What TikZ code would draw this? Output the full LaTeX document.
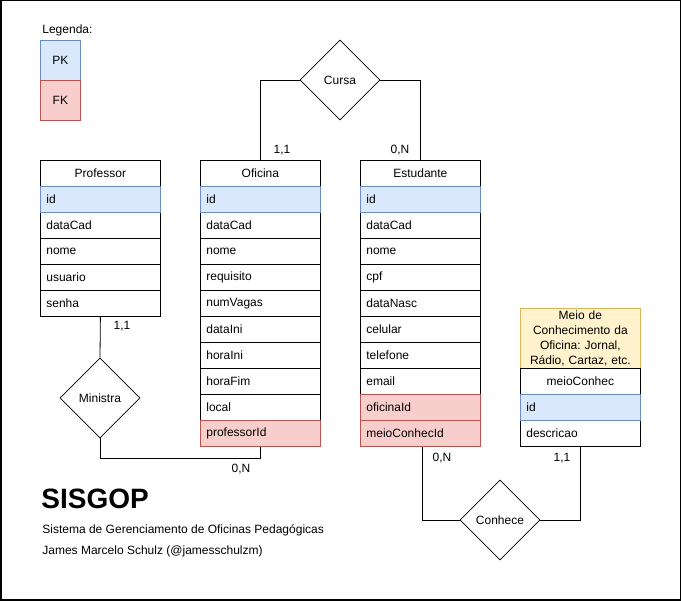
\documentclass[tikz,border=0pt]{standalone}
\usepackage{fontspec}
\setmainfont{Liberation Sans}
\usetikzlibrary{shapes.geometric}
\definecolor{pkfill}{HTML}{DAE8FC}
\definecolor{pkline}{HTML}{6C8EBF}
\definecolor{fkfill}{HTML}{F8CECC}
\definecolor{fkline}{HTML}{B85450}
\definecolor{notefill}{HTML}{FFF2CC}
\definecolor{noteline}{HTML}{D6B656}
\newcommand{\w}{120pt}
\newcommand{\h}{26pt}
\frenchspacing

\begin{document}
\begin{tikzpicture}[x=1pt, y=-1pt, line width=0.8pt,
    every node/.style={font=\fontsize{12}{14}\selectfont},
    tab/.style={draw, rectangle, anchor=north west, minimum width=\w, minimum height=\h, inner xsep=6pt, inner ysep=0pt, text width=108pt, align=left},
    head/.style={tab, align=center},
    pk/.style={tab, fill=pkfill, draw=pkline},
    fk/.style={tab, fill=fkfill, draw=fkline},
    rel/.style={draw, diamond, minimum width=80pt, minimum height=80pt, inner sep=0pt, fill=white},
    card/.style={inner sep=0pt}]
    \useasboundingbox (0,0) rectangle (681,601);
    \draw[line width=1.5pt] (0.75,0.75) rectangle (680.25,600.25);

    % Legend
    \node[anchor=west, inner sep=0pt] (legend) at (42,30) {Legenda:};
    \node[head, fill=pkfill, draw=pkline, minimum width=40pt, text width=28pt, minimum height=40pt] (legend-pk) at (40,40) {PK};
    \node[head, fill=fkfill, draw=fkline, minimum width=40pt, text width=28pt, minimum height=40pt] (legend-fk) at (40,80) {FK};

    % Professor
    \node[head] (prof-0) at (40,160) {Professor};
    \node[tab] (prof-2) at (40,212) {dataCad};
    \node[tab] (prof-3) at (40,238) {nome};
    \node[tab] (prof-4) at (40,264) {usuario};
    \node[tab] (prof-5) at (40,290) {senha};
    \node[pk] (prof-1) at (40,186) {id};

    % Oficina
    \node[head] (ofi-0) at (200,160) {Oficina};
    \node[tab] (ofi-2) at (200,212) {dataCad};
    \node[tab] (ofi-3) at (200,238) {nome};
    \node[tab] (ofi-4) at (200,264) {requisito};
    \node[tab] (ofi-5) at (200,290) {numVagas};
    \node[tab] (ofi-6) at (200,316) {dataIni};
    \node[tab] (ofi-7) at (200,342) {horaIni};
    \node[tab] (ofi-8) at (200,368) {horaFim};
    \node[tab] (ofi-9) at (200,394) {local};
    \node[pk] (ofi-1) at (200,186) {id};
    \node[fk] (ofi-10) at (200,420) {professorId};

    % Estudante
    \node[head] (est-0) at (360,160) {Estudante};
    \node[tab] (est-2) at (360,212) {dataCad};
    \node[tab] (est-3) at (360,238) {nome};
    \node[tab] (est-4) at (360,264) {cpf};
    \node[tab] (est-5) at (360,290) {dataNasc};
    \node[tab] (est-6) at (360,316) {celular};
    \node[tab] (est-7) at (360,342) {telefone};
    \node[tab] (est-8) at (360,368) {email};
    \node[pk] (est-1) at (360,186) {id};
    \node[fk] (est-9) at (360,394) {oficinaId};
    \node[fk] (est-10) at (360,420) {meioConhecId};

    % meioConhec
    \node[head, fill=notefill, draw=noteline, minimum height=60pt, font=\fontsize{12}{15}\selectfont] (note) at (520,308) {Meio de\\Conhecimento da\\Oficina: Jornal,\\Rádio, Cartaz, etc.};
    \node[head] (meio-0) at (520,368) {meioConhec};
    \node[tab] (meio-2) at (520,420) {descricao};
    \node[pk] (meio-1) at (520,394) {id};

    % Relationships
    \node[rel] (cursa) at (340,80) {Cursa};
    \node[rel] (ministra) at (100,398) {Ministra};
    \node[rel] (conhece) at (500,520) {Conhece};

    \draw (cursa.west) -| (ofi-0.north);
    \draw (cursa.east) -| (est-0.north);
    \draw (prof-5.south) -- (ministra.north);
    \draw (ministra.south) -- ++(0,20) -| (ofi-10.south);
    \draw (conhece.west) -| ([xshift=2pt]est-10.south);
    \draw (conhece.east) -| (meio-2.south);

    % Cardinalities
    \node[card] (c-cursa-ofi) at (282,150) {1,1};
    \node[card] (c-cursa-est) at (400,150) {0,N};
    \node[card] (c-min-prof) at (122,326) {1,1};
    \node[card] (c-min-ofi) at (241,469) {0,N};
    \node[card] (c-con-est) at (442,458) {0,N};
    \node[card] (c-con-meio) at (562,458) {1,1};

    % Title
    \node[anchor=west, inner sep=0pt, font=\fontsize{28}{30}\bfseries] (title) at (41,499) {SISGOP};
    \node[anchor=west, inner sep=0pt] (subtitle) at (42,530) {Sistema de Gerenciamento de Oficinas Pedagógicas};
    \node[anchor=west, inner sep=0pt] (author) at (42,551) {James Marcelo Schulz (@jamesschulzm)};
\end{tikzpicture}
\end{document}
